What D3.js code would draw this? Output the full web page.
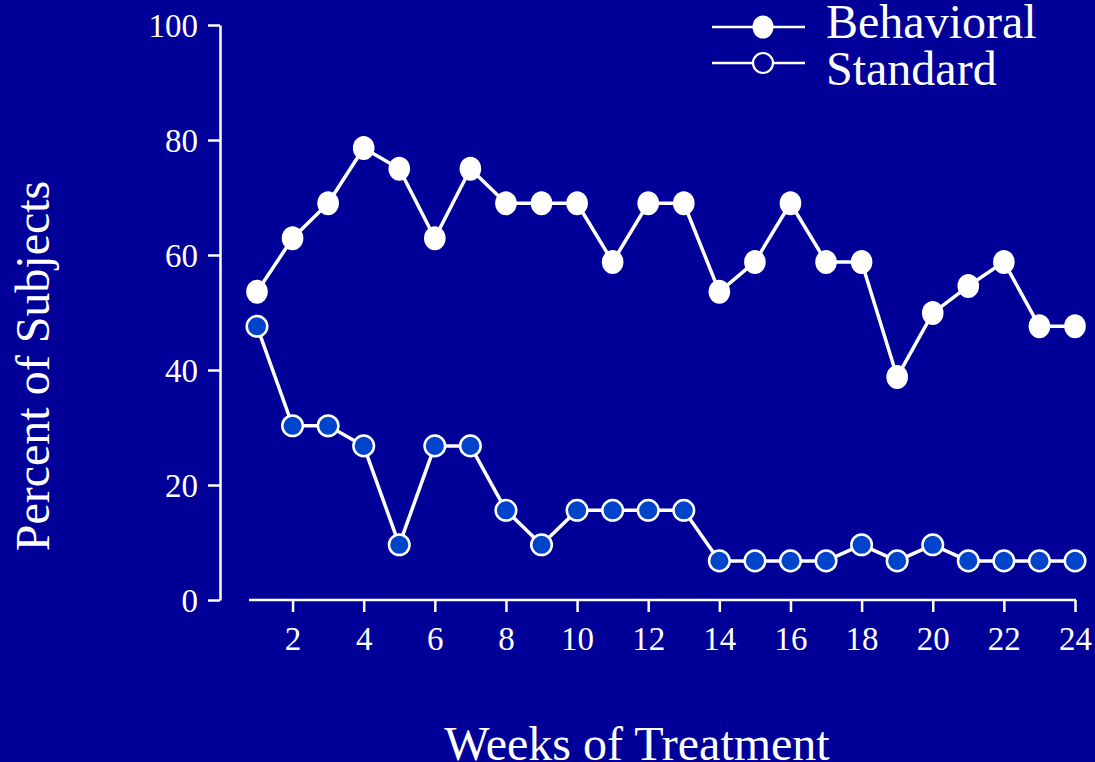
<!DOCTYPE html>
<html><head><meta charset="utf-8">
<script src="https://cdn.jsdelivr.net/npm/d3@7"></script>
<style>html,body{margin:0;padding:0;background:#000099;}svg{display:block;}</style>
</head><body>
<svg id="c" width="1095" height="762"></svg>
<script>
const weeks = d3.range(1, 25);
const behavioral = [53.6,62.9,69.0,78.6,75.0,62.9,75.0,69.0,69.0,69.0,58.8,69.0,69.0,53.6,58.8,69.0,58.8,58.8,38.8,49.9,54.6,58.8,47.6,47.6];
const standard   = [47.6,30.3,30.3,26.8,9.6,26.8,26.8,15.6,9.6,15.6,15.6,15.6,15.6,6.8,6.8,6.8,6.8,9.6,6.8,9.6,6.8,6.8,6.8,6.8];
const xTicks = [2,4,6,8,10,12,14,16,18,20,22,24];
const yTicks = [0,20,40,60,80,100];
const seriesNames = ["Behavioral","Standard"];

const bg = "#000099", fg = "#ffffff", openFill = "#0044cc";
const font = "Liberation Serif, Times New Roman, serif";
const svg = d3.select("#c");
svg.append("rect").attr("width",1095).attr("height",762).attr("fill",bg);

const x = d3.scaleLinear().domain([1,24]).range([257,1075]);
const y = d3.scaleLinear().domain([0,100]).range([600,25]);

// Y axis
const ya = svg.append("g").attr("transform","translate(220,0)")
  .call(d3.axisLeft(y).tickValues(yTicks).tickSize(12).tickPadding(10).tickSizeOuter(0));
ya.select(".domain").attr("stroke",fg).attr("stroke-width",2.5);
ya.selectAll(".tick line").attr("stroke",fg).attr("stroke-width",2.5);
ya.selectAll(".tick text").attr("fill",fg).attr("font-family",font).attr("font-size",33).attr("dy","0.35em");

// X axis
const xa = svg.append("g").attr("transform","translate(0,600)")
  .call(d3.axisBottom(x).tickValues(xTicks).tickSize(12).tickPadding(12).tickSizeOuter(0));
xa.select(".domain").remove();
xa.append("line").attr("x1",249).attr("x2",x(24)+1).attr("y1",0).attr("y2",0).attr("stroke",fg).attr("stroke-width",2.5);
xa.selectAll(".tick line").attr("stroke",fg).attr("stroke-width",2.5);
xa.selectAll(".tick text").attr("fill",fg).attr("font-family",font).attr("font-size",33).attr("dy","0.78em");

// titles
svg.append("text").attr("x",637).attr("y",760).attr("text-anchor","middle")
  .attr("fill",fg).attr("font-family",font).attr("font-size",48).text("Weeks of Treatment");
svg.append("text").attr("transform","translate(49,366) rotate(-90)").attr("text-anchor","middle")
  .attr("fill",fg).attr("font-family",font).attr("font-size",48).text("Percent of Subjects");

const line = d3.line().x((d,i)=>x(weeks[i])).y(d=>y(d));

// Standard series
svg.append("path").datum(standard).attr("d",line).attr("fill","none").attr("stroke",fg).attr("stroke-width",3.5).attr("stroke-linejoin","round");
svg.append("g").selectAll("circle").data(standard).join("circle")
  .attr("cx",(d,i)=>x(weeks[i])).attr("cy",d=>y(d)).attr("r",10.3)
  .attr("fill",openFill).attr("stroke",fg).attr("stroke-width",2.5);

// Behavioral series
svg.append("path").datum(behavioral).attr("d",line).attr("fill","none").attr("stroke",fg).attr("stroke-width",3.5).attr("stroke-linejoin","round");
svg.append("g").selectAll("ellipse").data(behavioral).join("ellipse")
  .attr("cx",(d,i)=>x(weeks[i])).attr("cy",d=>y(d)).attr("rx",10.8).attr("ry",12)
  .attr("fill",fg);

// Legend
const leg = svg.append("g");
const legY = [27, 63];
const legTextY = [38, 85];
seriesNames.forEach((name,i)=>{
  leg.append("line").attr("x1",712).attr("x2",805).attr("y1",legY[i]).attr("y2",legY[i]).attr("stroke",fg).attr("stroke-width",2.5);
  if (i===0) leg.append("ellipse").attr("cx",763).attr("cy",legY[i]).attr("rx",10.5).attr("ry",11.5).attr("fill",fg);
  else leg.append("circle").attr("cx",763).attr("cy",legY[i]).attr("r",10).attr("fill",bg).attr("stroke",fg).attr("stroke-width",2.2);
  leg.append("text").attr("x",826).attr("y",legTextY[i]).attr("fill",fg).attr("font-family",font).attr("font-size",48).text(name);
});
</script>
</body></html>
